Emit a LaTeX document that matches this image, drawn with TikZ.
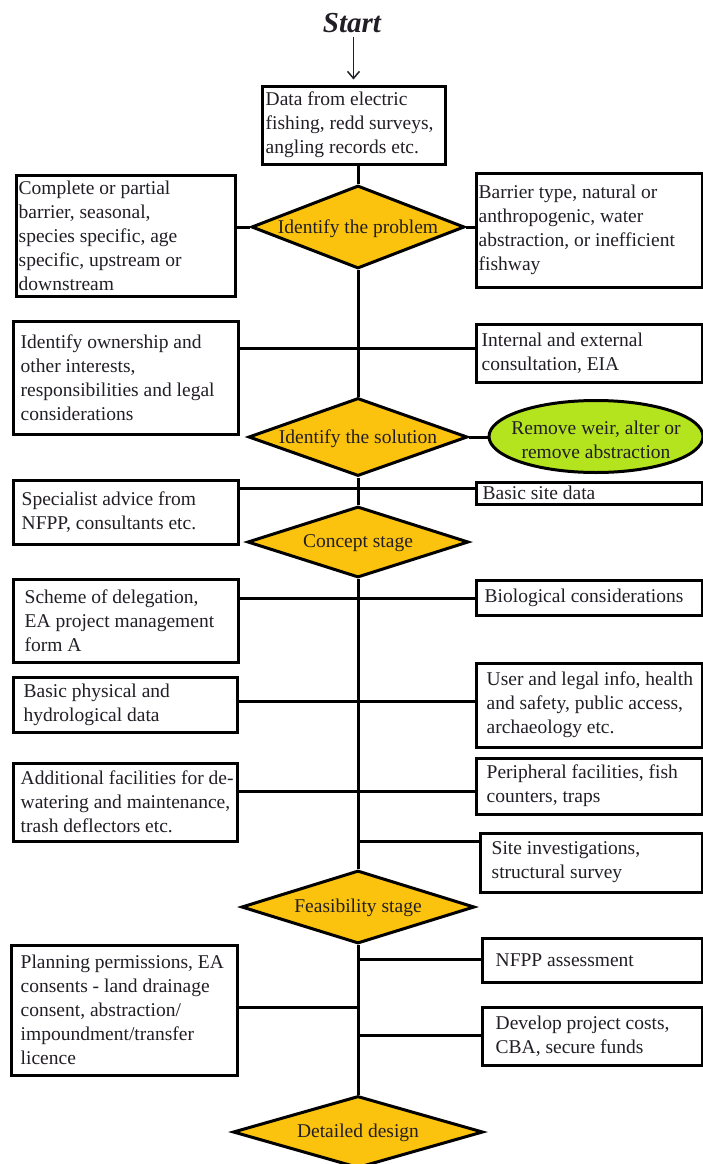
\documentclass[tikz,border=0pt]{standalone}
\usepackage{fontspec}
\setmainfont{Liberation Serif}
\newfontfamily\bodyff{Liberation Serif}
\usetikzlibrary{shapes.geometric,arrows.meta}
\definecolor{diafill}{HTML}{FCC30E}
\definecolor{grnfill}{HTML}{B4E41E}
\definecolor{txt}{HTML}{221E26}
\newcommand\bodyfont{\bodyff\fontsize{19.5}{24}\selectfont}
\begin{document}
\begin{tikzpicture}[x=1pt,y=-1pt,
  conn/.style={line width=3pt},
  box/.style 2 args={draw, rectangle, line width=3pt, fill=white, minimum width=#1, minimum height=#2, inner sep=0pt},
  bt/.style={anchor=west, xshift=#1, inner sep=0pt, align=left, font=\bodyfont, text=txt},
  dmd/.style 2 args={diamond, draw, line width=3pt, fill=diafill, minimum width=#1, minimum height=#2, inner sep=0pt},
  dt/.style={inner sep=0pt, align=center, font=\bodyfont, text=txt},
]
\clip (0,0) rectangle (703,1164);
\fill[white] (0,0) rectangle (703,1164);

% start
\node[font=\bodyff\fontsize{29}{30}\selectfont\bfseries\itshape, text=txt, inner sep=0pt] (start) at (352,23) {Start};

% boxes
\node[box={183}{78}, label={[bt=5]west:{Data from electric\\fishing, redd surveys,\\angling records etc.}}] (box1) at (353.5,125) {};
\node[box={219}{121}, label={[bt=4]west:{Complete or partial\\barrier, seasonal,\\species specific, age\\specific, upstream or\\downstream}}] (A1) at (125.5,235.5) {};
\node[box={226}{114}, label={[bt=4]west:{Barrier type, natural or\\anthropogenic, water\\abstraction, or inefficient\\fishway}}] (B1) at (589,230) {};
\node[box={225}{113}, label={[bt=9]west:{Identify ownership and\\other interests,\\responsibilities and legal\\considerations}}] (A2) at (125.5,377.5) {};
\node[box={226}{58}, label={[bt=7]west:{Internal and external\\consultation, EIA}}] (B2) at (589,353) {};
\node[ellipse, draw, line width=3pt, fill=grnfill, minimum width=214, minimum height=72, inner sep=0pt,
  label={[dt, yshift=-3]center:{Remove weir, alter or\\remove abstraction}}] (E) at (596,436.5) {};
\node[box={225}{64}, label={[bt=10]west:{Specialist advice from\\NFPP, consultants etc.}}] (A3) at (125.5,512) {};
\node[box={226}{22}, label={[bt=8]west:{Basic site data}}] (B3) at (589,493) {};
\node[box={225}{83}, label={[bt=13]west:{Scheme of delegation,\\EA project management\\form A}}] (A4) at (125.5,620.5) {};
\node[box={226}{35}, label={[bt=10]west:{Biological considerations}}] (B4) at (589,597.5) {};
\node[box={224}{55}, label={[bt=12]west:{Basic physical and\\hydrological data}}] (A5) at (125,704.5) {};
\node[box={226}{84}, label={[bt=12]west:{User and legal info, health\\and safety, public access,\\archaeology etc.}}] (B5) at (589,705) {};
\node[box={224}{78}, label={[bt=9]west:{Additional facilities for de-\\watering and maintenance,\\trash deflectors etc.}}] (A6) at (125,802) {};
\node[box={226}{56}, label={[bt=12]west:{Peripheral facilities, fish\\counters, traps}}] (B6) at (589,786) {};
\node[box={222}{59}, label={[bt=13]west:{Site investigations,\\structural survey}}] (B7) at (591,862.5) {};
\node[box={226}{130}, label={[bt=11]west:{Planning permissions, EA\\consents - land drainage\\consent, abstraction/\\impoundment/transfer\\licence}}] (A8) at (124,1010) {};
\node[box={220}{44}, label={[bt=15]west:{NFPP assessment}}] (B8) at (592,960) {};
\node[box={220}{58}, label={[bt=15]west:{Develop project costs,\\CBA, secure funds}}] (B9) at (592,1036) {};

% diamonds
\node[dmd={213}{83}, label={[dt, yshift=-2]center:{Identify the problem}}] (d1) at (358,227) {};
\node[dmd={219}{78}, label={[dt, yshift=-2]center:{Identify the solution}}] (d2) at (358,437) {};
\node[dmd={221}{71}, label={[dt, yshift=-1]center:{Concept stage}}] (d3) at (358,542) {};
\node[dmd={233}{73}, label={[dt, yshift=-1]center:{Feasibility stage}}] (d4) at (358,907) {};
\node[dmd={250}{72}, label={[dt, yshift=-1]center:{Detailed design}}] (d5) at (358,1132) {};

% trunk coordinates
\coordinate (t2) at (358,348);
\coordinate (t3) at (358,488);
\coordinate (t4) at (358,598);
\coordinate (t5) at (358,701);
\coordinate (t6) at (358,791);
\coordinate (t7) at (358,841);
\coordinate (t8) at (358,959);
\coordinate (t9) at (358,1007);
\coordinate (t10) at (358,1035);

% connectors
\draw[line width=1.5pt, -{Straight Barb[length=7pt,width=12pt]}, shorten <=4pt, shorten >=5pt, txt] (start.south -| box1.north) -- (box1.north);
\draw[conn] (box1.south -| d1.north) -- (d1.north);
\draw[conn] (d1.south) -- (d2.north);
\draw[conn] (d2.south) -- (d3.north);
\draw[conn] (d3.south) -- (d4.north);
\draw[conn] (d4.south) -- (d5.north);

\draw[conn] (A1.east |- d1) -- (d1.west);
\draw[conn] (d1.east) -- (B1.west |- d1);
\draw[conn] (A2.east |- t2) -- (B2.west |- t2);
\draw[conn] (d2.east) -- (E.west |- d2);
\draw[conn] (A3.east |- t3) -- (B3.west |- t3);
\draw[conn] (A4.east |- t4) -- (B4.west |- t4);
\draw[conn] (A5.east |- t5) -- (B5.west |- t5);
\draw[conn] (A6.east |- t6) -- (B6.west |- t6);
\draw[conn] (t7) -- (B7.west |- t7);
\draw[conn] (t8) -- (B8.west |- t8);
\draw[conn] (A8.east |- t9) -- (t9);
\draw[conn] (t10) -- (B9.west |- t10);
\end{tikzpicture}
\end{document}
